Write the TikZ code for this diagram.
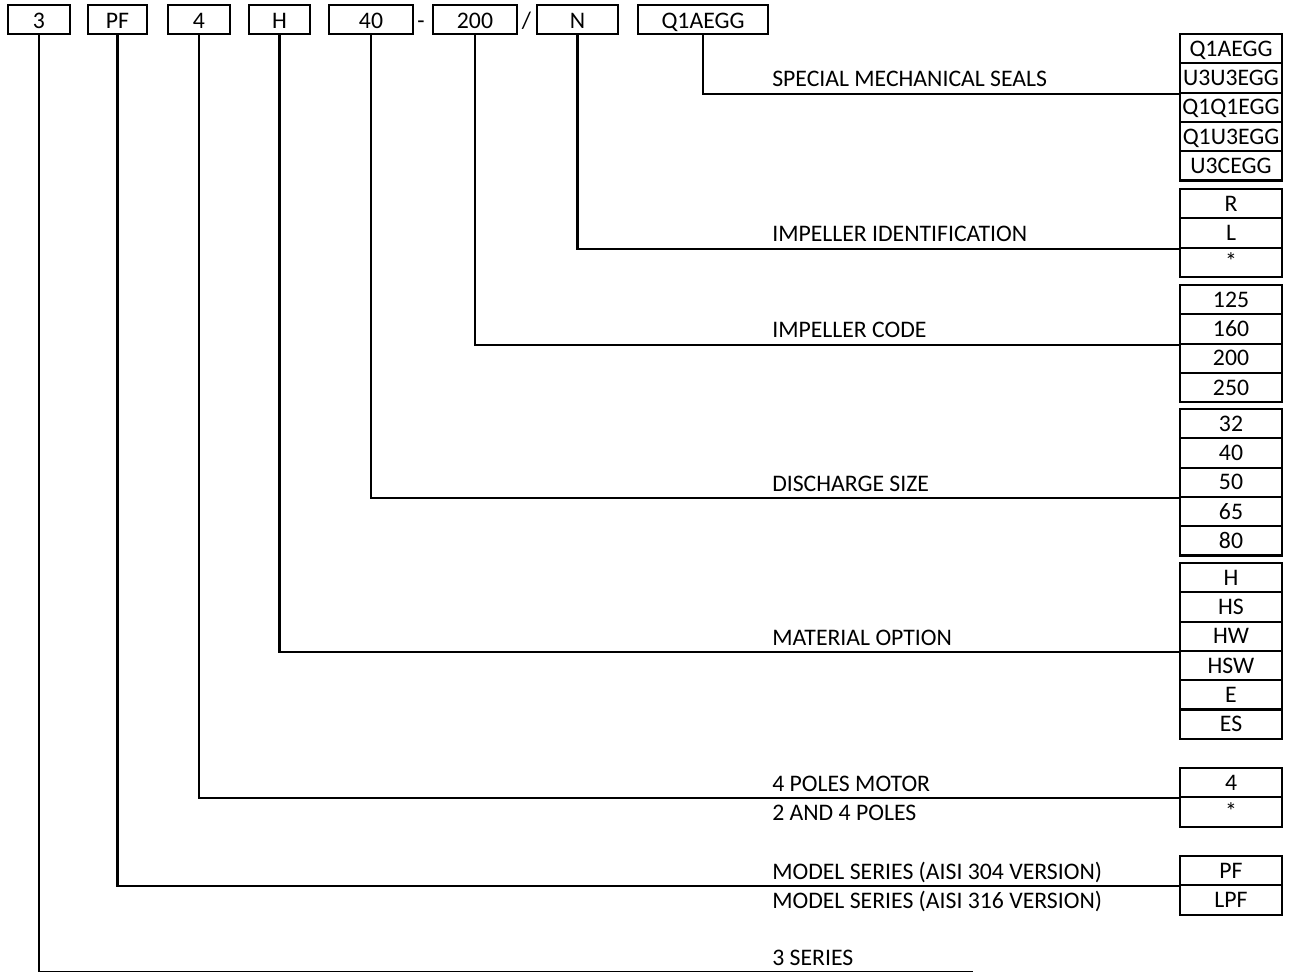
\documentclass[tikz,border=0pt]{standalone}
\usepackage{fontspec}
\setmainfont{Carlito}
\usepackage{tikz}

\begin{document}
\begin{tikzpicture}[
  x=.75pt,y=-.75pt,
  codebox/.style={draw,line width=1.6pt,minimum width=#1,minimum height=21.75pt,inner sep=0pt,text height=13.5pt,text depth=0pt,font=\fontsize{17.8}{20}\selectfont},
  joiner/.style={inner sep=0pt,text height=13.5pt,text depth=0pt,font=\fontsize{17.8}{20}\selectfont},
  optcell/.style={draw,line width=1.6pt,minimum width=76.5pt,minimum height=22pt,inner sep=0pt,text height=11.5pt,text depth=0pt,font=\fontsize{17.8}{20}\selectfont},
  desc/.style={anchor=base west,inner sep=0pt,font=\fontsize{17.8}{20}\selectfont},
  link/.style={line width=1.6pt}
]
\useasboundingbox (0,0) rectangle (1292,971);
% type code
\node[codebox=46.5pt] (c3) at (39,19.5) {3};
\node[codebox=44.25pt] (cpf) at (117.5,19.5) {PF};
\node[codebox=46.5pt] (c4) at (199,19.5) {4};
\node[codebox=45.75pt] (ch) at (279.5,19.5) {H};
\node[codebox=63pt] (c40) at (371,19.5) {40};
\node[joiner] (dash) at (421,19.5) {-};
\node[codebox=63pt] (c200) at (475,19.5) {200};
\node[joiner] (slash) at (526.5,19.5) {/};
\node[codebox=60.75pt] (cn) at (577.5,19.5) {N};
\node[codebox=97.5pt] (cseal) at (703,19.5) {Q1AEGG};
% options
\node[optcell] (seal1) at (1231,48.65) {Q1AEGG};
\node[optcell] (seal2) at (1231,77.95) {U3U3EGG};
\node[optcell] (seal3) at (1231,107.25) {Q1Q1EGG};
\node[optcell] (seal4) at (1231,136.55) {Q1U3EGG};
\node[optcell] (seal5) at (1231,165.85) {U3CEGG};
\node[optcell] (imp1) at (1231,203.65) {R};
\node[optcell] (imp2) at (1231,232.95) {L};
\node[optcell] (imp3) at (1231,262.25) {*};
\node[optcell] (code1) at (1231,299.65) {125};
\node[optcell] (code2) at (1231,328.95) {160};
\node[optcell] (code3) at (1231,358.25) {200};
\node[optcell] (code4) at (1231,387.55) {250};
\node[optcell] (dis1) at (1231,423.65) {32};
\node[optcell] (dis2) at (1231,452.95) {40};
\node[optcell] (dis3) at (1231,482.25) {50};
\node[optcell] (dis4) at (1231,511.55) {65};
\node[optcell] (dis5) at (1231,540.85) {80};
\node[optcell] (mat1) at (1231,577.65) {H};
\node[optcell] (mat2) at (1231,606.95) {HS};
\node[optcell] (mat3) at (1231,636.25) {HW};
\node[optcell] (mat4) at (1231,665.55) {HSW};
\node[optcell] (mat5) at (1231,694.85) {E};
\node[optcell] (mat6) at (1231,724.15) {ES};
\node[optcell] (pole1) at (1231,782.65) {4};
\node[optcell] (pole2) at (1231,811.95) {*};
\node[optcell] (model1) at (1231,870.65) {PF};
\node[optcell] (model2) at (1231,899.95) {LPF};
% descriptions
\node[desc] (sealtext) at (772,86.4) {SPECIAL MECHANICAL SEALS};
\node[desc] (imptext) at (772,241.6) {IMPELLER IDENTIFICATION};
\node[desc] (codetext) at (772,337.6) {IMPELLER CODE};
\node[desc] (distext) at (772,491.2) {DISCHARGE SIZE};
\node[desc] (mattext) at (772,645.2) {MATERIAL OPTION};
\node[desc] (poletext) at (772,791) {4 POLES MOTOR};
\node[desc] (poletext2) at (772,820) {2 AND 4 POLES};
\node[desc] (modeltext) at (772,879) {MODEL SERIES (AISI 304 VERSION)};
\node[desc] (modeltext2) at (772,908) {MODEL SERIES (AISI 316 VERSION)};
\node[desc] (seriestext) at (772,965.5) {3 SERIES};
% leaders
\coordinate (seriesend) at (973,972);
\draw[link] (cseal.south) |- (seal2.south west);
\draw[link] (cn.south) |- (imp2.south west);
\draw[link] (c200.south) |- (code2.south west);
\draw[link] (c40.south) |- (dis3.south west);
\draw[link] (ch.south) |- (mat3.south west);
\draw[link] (c4.south) |- (pole1.south west);
\draw[link] (cpf.south) |- (model1.south west);
\draw[link] (c3.south) |- (seriesend);
\end{tikzpicture}
\end{document}
